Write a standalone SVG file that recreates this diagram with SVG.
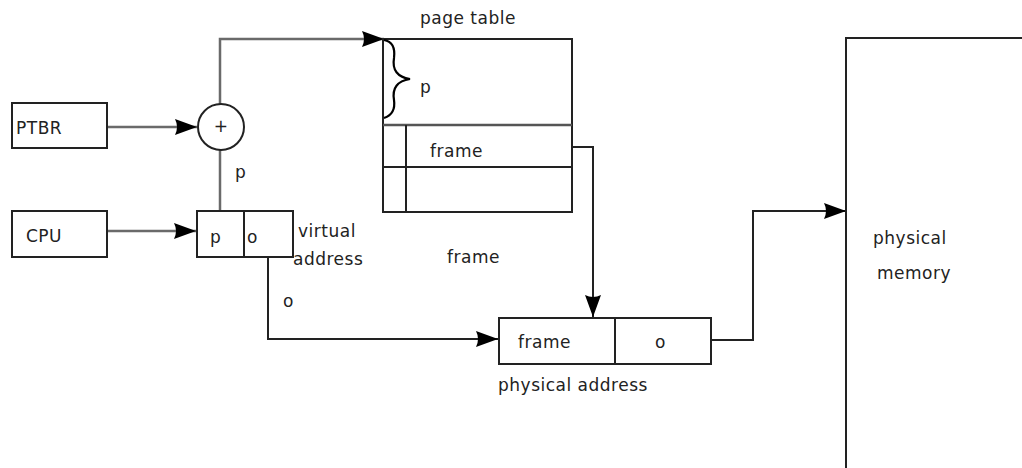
<svg xmlns="http://www.w3.org/2000/svg" width="1022" height="468" viewBox="0 0 1022 468">
<defs>
<style>
.box{fill:#fff;stroke:#222;stroke-width:2}
.ln{fill:none;stroke:#222;stroke-width:2}
.gl{fill:none;stroke:#6a6a6a;stroke-width:2.5}
text{font-family:"DejaVu Sans","Liberation Sans",sans-serif;font-size:17px;letter-spacing:0.5px;fill:#222}
</style>
<marker id="ah" markerUnits="userSpaceOnUse" markerWidth="24" markerHeight="20" refX="22" refY="10" orient="auto">
<path d="M0,2 Q4,10 0,18 L22,10 Z" fill="#000"/>
</marker>
</defs>
<g id="connectors">
<path class="gl" d="M107,127 H197" marker-end="url(#ah)"/>
<path class="gl" d="M220,104 V39 H384" marker-end="url(#ah)"/>
<path class="gl" d="M220,150 V211"/>
<path class="gl" d="M107,231 H196" marker-end="url(#ah)"/>
<path class="ln" d="M268,257 V339 H498" marker-end="url(#ah)"/>
<path class="ln" d="M567,147 H593 V317" marker-end="url(#ah)"/>
<path class="ln" d="M711,340 H753 V211 H846" marker-end="url(#ah)"/>
</g>
<g id="ptbr"><rect class="box" x="12" y="103" width="95" height="45"/><text x="16" y="134">PTBR</text></g>
<g id="cpu"><rect class="box" x="12" y="211" width="95" height="46"/><text x="26" y="242">CPU</text></g>
<g id="adder"><circle cx="221" cy="127" r="23" fill="#fff" stroke="#222" stroke-width="2"/><text x="221" y="132" text-anchor="middle" font-size="12">+</text></g>
<text x="235" y="178">p</text>
<g id="virtual-address">
<rect class="box" x="197" y="211" width="96" height="46"/>
<line class="ln" x1="244" y1="211" x2="244" y2="257"/>
<text x="210" y="243">p</text>
<text x="247" y="243">o</text>
<text x="298" y="237">virtual</text>
<text x="293" y="265">address</text>
</g>
<text x="283" y="307">o</text>
<g id="page-table">
<rect class="box" x="383" y="39" width="189" height="173"/>
<line x1="383" y1="125" x2="572" y2="125" stroke="#555" stroke-width="2.5"/>
<line class="ln" x1="383" y1="167" x2="572" y2="167"/>
<line class="ln" x1="406" y1="125" x2="406" y2="212"/>
<path d="M384,40 Q396,42 394,58 Q391,76 410,79 Q391,82 394,100 Q396,114 384,118" fill="none" stroke="#000" stroke-width="2.2"/>
<text x="420" y="93">p</text>
<text x="430" y="157">frame</text>
<text x="420" y="24" font-size="14" letter-spacing="0.3">page table</text>
</g>
<text x="447" y="263">frame</text>
<g id="physical-address">
<rect class="box" x="499" y="318" width="212" height="46"/>
<line class="ln" x1="615" y1="318" x2="615" y2="364"/>
<text x="518" y="348">frame</text>
<text x="655" y="348">o</text>
<text x="498" y="391">physical address</text>
</g>
<g id="physical-memory">
<path class="ln" d="M1022,38 H846 V468"/>
<text x="873" y="244">physical</text>
<text x="877" y="279">memory</text>
</g>
</svg>
